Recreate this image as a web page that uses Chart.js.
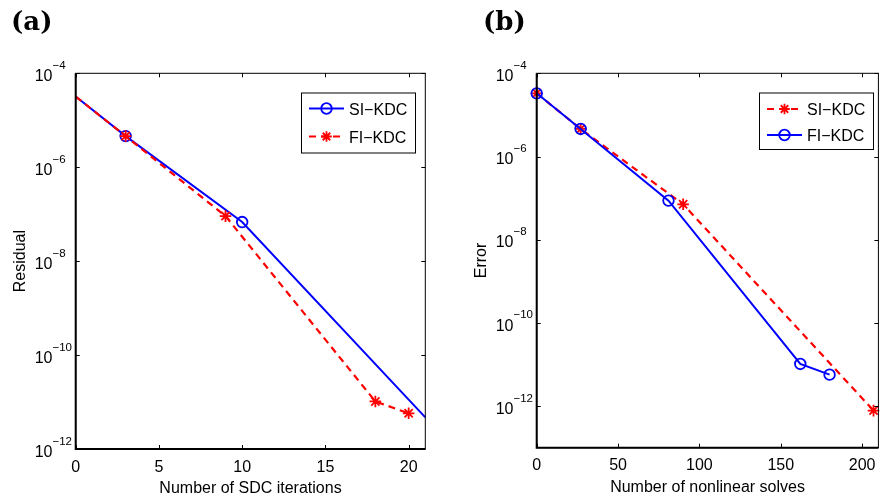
<!DOCTYPE html>
<html>
<head>
<meta charset="utf-8">
<script src="https://cdn.jsdelivr.net/npm/chart.js@4/dist/chart.umd.min.js"></script>
<style>
body { margin: 0; background: #fff; }
#wrap { position: relative; width: 886px; height: 502px; }
canvas { position: absolute; top: 0; }
</style>
</head>
<body>
<div id="wrap">
<canvas id="chartA" width="443" height="502" style="left:0"></canvas>
<canvas id="chartB" width="443" height="502" style="left:443px"></canvas>
</div>
<script>
// (a) residual vs SDC iterations
var iterSI = [0, 3, 10, 21];
var residualSI = [3.2e-5, 4.6e-6, 6.8e-8, 4.7e-12];
var iterFI = [0, 3, 9, 18, 20];
var residualFI = [3.2e-5, 4.6e-6, 9.1e-8, 1.03e-11, 5.75e-12];

// (b) error vs nonlinear solves
var solvesSI = [0, 27, 90, 207];
var errorSI = [3.3e-5, 4.6e-6, 7.1e-8, 7.8e-13];
var solvesFI = [0, 27, 81, 162, 180];
var errorFI = [3.3e-5, 4.6e-6, 8.7e-8, 1.03e-11, 5.7e-12];

var xTicksA = [0, 5, 10, 15, 20];
var xTicksB = [0, 50, 100, 150, 200];
var yTickExps = [-4, -6, -8, -10, -12];

var FONT = "'Liberation Sans', Arial, sans-serif";
var BLUE = "#0000ff", RED = "#ff0000";

function pts(xs, ys) {
	return xs.map(function (x, i) { return { x: x, y: ys[i] }; });
}

function drawMarker(ctx, style, color, x, y, r) {
	ctx.save();
	ctx.strokeStyle = color;
	ctx.lineWidth = 1.8;
	ctx.setLineDash([]);
	ctx.beginPath();
	if (style === "circle") {
		ctx.arc(x, y, r, 0, Math.PI * 2);
	} else {
		var d = r * Math.SQRT1_2;
		ctx.moveTo(x - r, y); ctx.lineTo(x + r, y);
		ctx.moveTo(x, y - r); ctx.lineTo(x, y + r);
		ctx.moveTo(x - d, y - d); ctx.lineTo(x + d, y + d);
		ctx.moveTo(x - d, y + d); ctx.lineTo(x + d, y - d);
	}
	ctx.stroke();
	ctx.restore();
}

// matlab style frame, ticks, labels and legend
var framePlugin = {
	id: "frame",
	afterDraw: function (chart) {
		var o = chart.options.plugins.frame;
		var ctx = chart.ctx, a = chart.chartArea;
		var xs = chart.scales.x, ys = chart.scales.y;
		ctx.save();
		ctx.strokeStyle = "#000";
		ctx.fillStyle = "#000";
		ctx.setLineDash([]);

		// box
		ctx.lineWidth = 1;
		ctx.strokeRect(a.left, a.top, a.right - a.left, a.bottom - a.top);
		ctx.lineWidth = 2;
		ctx.beginPath();
		ctx.moveTo(a.left, a.top); ctx.lineTo(a.left, a.bottom); ctx.lineTo(a.right, a.bottom);
		ctx.stroke();

		// ticks
		ctx.lineWidth = 1;
		ctx.beginPath();
		o.xTicks.forEach(function (v) {
			var px = Math.round(xs.getPixelForValue(v)) + 0.5;
			ctx.moveTo(px, a.bottom); ctx.lineTo(px, a.bottom - 4);
			ctx.moveTo(px, a.top); ctx.lineTo(px, a.top + 4);
		});
		yTickExps.forEach(function (e) {
			var py = Math.round(ys.getPixelForValue(Math.pow(10, e))) + 0.5;
			ctx.moveTo(a.left, py); ctx.lineTo(a.left + 4, py);
			ctx.moveTo(a.right, py); ctx.lineTo(a.right - 4, py);
		});
		ctx.stroke();

		// tick labels
		ctx.textBaseline = "alphabetic";
		ctx.font = "16px " + FONT;
		ctx.textAlign = "center";
		o.xTicks.forEach(function (v) {
			ctx.fillText(String(v), xs.getPixelForValue(v), a.bottom + 22.5);
		});
		ctx.textAlign = "left";
		yTickExps.forEach(function (e) {
			var py = ys.getPixelForValue(Math.pow(10, e));
			var lx = a.left - 41;
			ctx.font = "16px " + FONT;
			ctx.fillText("10", lx, py + 7.7);
			var w = ctx.measureText("10").width;
			ctx.font = "11.5px " + FONT;
			ctx.fillText("\u2212" + (-e), lx + w, py - 4.5);
		});

		// axis titles
		ctx.font = "16px " + FONT;
		ctx.textAlign = "center";
		ctx.fillText(o.xTitle, (a.left + a.right) / 2, a.bottom + 44);
		ctx.save();
		ctx.translate(a.left - 51, (a.top + a.bottom) / 2);
		ctx.rotate(-Math.PI / 2);
		ctx.fillText(o.yTitle, 0, 0);
		ctx.restore();

		// panel label
		ctx.font = "bold 26px 'DejaVu Serif', serif";
		ctx.textAlign = "left";
		ctx.fillText(o.panel, o.panelX, 30);

		// legend
		var L = o.legend;
		ctx.fillStyle = "#fff";
		ctx.fillRect(L.x, L.y, L.w, L.h);
		ctx.lineWidth = 1;
		ctx.strokeStyle = "#000";
		ctx.strokeRect(L.x + 0.5, L.y + 0.5, L.w, L.h);
		chart.data.datasets.forEach(function (ds, i) {
			var ry = L.y + L.rows[i];
			ctx.save();
			ctx.strokeStyle = ds.borderColor;
			ctx.lineWidth = ds.borderWidth;
			ctx.setLineDash(ds.borderDash || []);
			ctx.beginPath();
			ctx.moveTo(L.x + 8, ry); ctx.lineTo(L.x + 43, ry);
			ctx.stroke();
			ctx.restore();
			drawMarker(ctx, ds.pointStyle, ds.borderColor, L.x + 25.5, ry, 5.3);
			ctx.fillStyle = "#000";
			ctx.font = "16px " + FONT;
			ctx.textAlign = "left";
			ctx.fillText(ds.label, L.x + 48, ry + 6);
		});
		ctx.restore();
	}
};

function makeChart(id, datasets, xMax, yMin, pad, frame) {
	return new Chart(document.getElementById(id), {
		type: "line",
		data: { datasets: datasets },
		options: {
			responsive: false,
			animation: false,
			events: [],
			layout: { padding: pad },
			scales: {
				x: { type: "linear", min: 0, max: xMax, display: false },
				y: { type: "logarithmic", min: yMin, max: 1e-4, display: false }
			},
			plugins: { legend: { display: false }, tooltip: { enabled: false }, frame: frame }
		},
		plugins: [framePlugin]
	});
}

function siSet(label, data, color, dashed, style, radii, order) {
	return {
		label: label,
		data: data,
		borderColor: color,
		backgroundColor: "rgba(0,0,0,0)",
		borderWidth: dashed ? 2.2 : 2,
		borderDash: dashed ? [7, 5] : [],
		pointStyle: style,
		pointRadius: radii,
		pointBorderWidth: 1.8,
		pointBorderColor: color,
		pointBackgroundColor: "rgba(0,0,0,0)",
		tension: 0,
		clip: false,
		order: order
	};
}

makeChart("chartA", [
	siSet("SI\u2212KDC", pts(iterSI, residualSI), BLUE, false, "circle", [0, 5.3, 5.3, 0], 1),
	siSet("FI\u2212KDC", pts(iterFI, residualFI), RED, true, "star", [0, 5.8, 5.8, 5.8, 5.8], 0)
], 21, 1e-12, { left: 75.7, right: 17.7, top: 73.3, bottom: 53 }, {
	xTicks: xTicksA, xTitle: "Number of SDC iterations", yTitle: "Residual",
	panel: "(a)", panelX: 11,
	legend: { x: 301, y: 92.5, w: 114, h: 60, rows: [16, 44] }
});

makeChart("chartB", [
	siSet("SI\u2212KDC", pts(solvesSI, errorSI), RED, true, "star", [5.8, 5.8, 5.8, 5.8], 1),
	siSet("FI\u2212KDC", pts(solvesFI, errorFI), BLUE, false, "circle", [5.3, 5.3, 5.3, 5.3, 5.3], 0)
], 210, 1e-13, { left: 93.7, right: 0.5, top: 73.3, bottom: 54.3 }, {
	xTicks: xTicksB, xTitle: "Number of nonlinear solves", yTitle: "Error",
	panel: "(b)", panelX: 40,
	legend: { x: 316, y: 92.5, w: 114, h: 56.5, rows: [16.5, 42.5] }
});
</script>
</body>
</html>
